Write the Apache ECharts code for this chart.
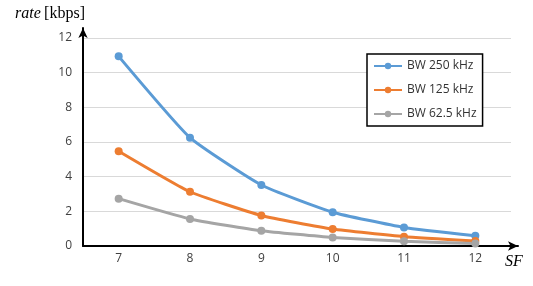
<!DOCTYPE html>
<html><head><meta charset="utf-8">
<script src="https://cdn.jsdelivr.net/npm/echarts@6/dist/echarts.min.js"></script>
<style>html,body{margin:0;padding:0;background:#fff}#c{width:533px;height:286px}</style>
</head><body><div id="c"></div>
<script>
const categories = ['7','8','9','10','11','12'];
const bw250 = [10.94, 6.25, 3.52, 1.95, 1.07, 0.59];
const bw125 = [5.47, 3.13, 1.76, 0.98, 0.54, 0.29];
const bw625 = [2.73, 1.56, 0.88, 0.49, 0.27, 0.15];
const seriesNames = ['BW 250 kHz','BW 125 kHz','BW 62.5 kHz'];
const colors = ['#5B9BD5','#ED7D31','#A5A5A5'];

const chart = echarts.init(document.getElementById('c'), null, {renderer:'canvas'});
const font = '"Open Sans", "Noto Sans", sans-serif';
function mk(name, data, color){
  return {name, type:'line', data, xAxisIndex:0, yAxisIndex:0, color,
    smooth:0.15, symbol:'circle', symbolSize:8, lineStyle:{width:3, color},
    itemStyle:{color}, z:3};
}
chart.setOption({
  animation:false,
  grid:[
    {left:83, right:22, top:38, bottom:40},
    {left:83, right:15, top:28, bottom:40}
  ],
  legend:{
    orient:'vertical', left:367, top:54, padding:[5,6,5,6], itemGap:10,
    itemWidth:28, itemHeight:8, backgroundColor:'#fff', borderColor:'#000', borderWidth:1.5,
    textStyle:{fontFamily:font, fontSize:12, color:'#333', lineHeight:14},
    data:seriesNames
  },
  xAxis:[
    {gridIndex:0, type:'category', data:categories, boundaryGap:true,
     axisLine:{show:false}, axisTick:{show:false},
     axisLabel:{color:'#404040', fontFamily:font, fontSize:12, margin:7}},
    {gridIndex:1, type:'value', min:0, max:1, splitLine:{show:false},
     axisLabel:{show:false}, axisTick:{show:false},
     axisLine:{show:true, lineStyle:{color:'#000', width:2}, symbol:['none','arrow'], symbolSize:[7,10]},
     name:'SF', nameLocation:'end', nameGap:-4,
     nameTextStyle:{fontFamily:'"Liberation Serif", serif', fontStyle:'italic', fontSize:16, color:'#000',
       align:'center', verticalAlign:'top', padding:[8,0,0,0]}}
  ],
  yAxis:[
    {gridIndex:0, type:'value', min:0, max:12, interval:2,
     axisLine:{show:false}, axisTick:{show:false},
     splitLine:{lineStyle:{color:'#D9D9D9', width:1}},
     axisLabel:{color:'#404040', fontFamily:font, fontSize:12, margin:11}},
    {gridIndex:1, type:'value', min:0, max:1, splitLine:{show:false},
     axisLabel:{show:false}, axisTick:{show:false},
     axisLine:{show:true, lineStyle:{color:'#000', width:2}, symbol:['none','arrow'], symbolSize:[7,10]},
     name:'{i|rate} {n|[kbps]}', nameLocation:'end', nameGap:6,
     nameTextStyle:{align:'right', padding:[0,-2,0,0],
       rich:{i:{fontFamily:'"Liberation Serif", serif', fontStyle:'italic', fontSize:16, color:'#000'},
             n:{fontFamily:'"Liberation Serif", serif', fontSize:16, color:'#000'}}}}
  ],
  series:[
    mk(seriesNames[0], bw250, colors[0]),
    mk(seriesNames[1], bw125, colors[1]),
    mk(seriesNames[2], bw625, colors[2])
  ]
});
</script></body></html>
